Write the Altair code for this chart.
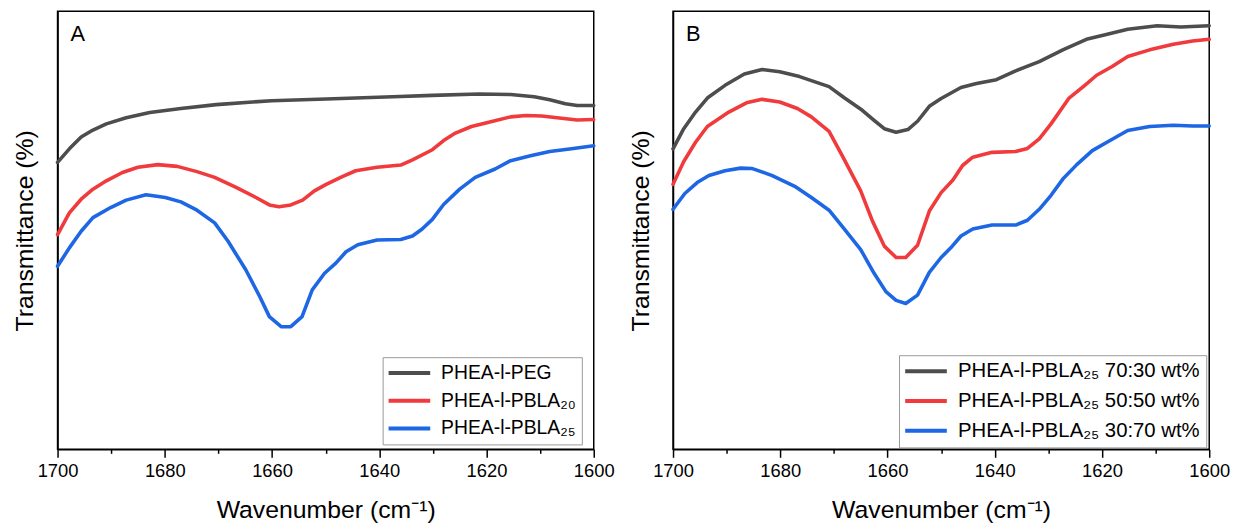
import altair as alt
import pandas as pd

# ---------------- Panel A ----------------
a_names = ["PHEA-l-PEG", "PHEA-l-PBLA₂₀", "PHEA-l-PBLA₂₅"]
a_colors = ["#4d4d4d", "#f03a3c", "#1d66e4"]

a_peg_wn = [1700, 1697.8, 1695.6, 1693.4, 1690.9, 1687.2, 1682.8, 1677.0, 1670.4, 1660.1,
            1649.9, 1637.5, 1630.1, 1621.4, 1615.5, 1611.1, 1608.2, 1605.3, 1603.1, 1600]
a_peg_t = [65.5, 68.6, 71.3, 72.9, 74.3, 75.7, 76.9, 77.8, 78.7, 79.6,
           80.0, 80.5, 80.8, 81.1, 81.0, 80.5, 79.8, 78.9, 78.5, 78.5]

a_b20_wn = [1700, 1697.8, 1695.6, 1693.4, 1690.9, 1687.9, 1685.0, 1681.3, 1677.7, 1674.0,
            1670.7, 1666.7, 1663.0, 1660.5, 1658.7, 1656.5, 1654.3, 1652.1, 1649.9, 1647.0,
            1644.4, 1640.4, 1636.0, 1633.8, 1630.1, 1628.0, 1625.8, 1622.8, 1619.2, 1615.5,
            1612.6, 1609.7, 1606.0, 1603.1, 1600]
a_b20_t = [49.0, 54.0, 57.1, 59.4, 61.3, 63.2, 64.4, 65.0, 64.6, 63.4,
           62.1, 59.8, 57.5, 55.8, 55.4, 55.8, 56.9, 59.0, 60.5, 62.2,
           63.6, 64.4, 64.9, 66.1, 68.4, 70.5, 72.2, 73.7, 74.8, 75.9,
           76.2, 76.1, 75.6, 75.2, 75.3]

a_b25_wn = [1700, 1697.8, 1695.6, 1693.4, 1690.1, 1687.2, 1683.5, 1679.9, 1677.0, 1674.0,
            1670.7, 1668.2, 1664.9, 1662.3, 1660.5, 1658.3, 1656.5, 1654.4, 1652.5, 1650.2,
            1648.1, 1646.2, 1644.0, 1640.4, 1636.0, 1633.8, 1632.0, 1630.1, 1628.0, 1625.0,
            1622.1, 1618.4, 1615.5, 1611.8, 1608.2, 1603.8, 1600]
a_b25_t = [41.8, 46.0, 49.8, 52.9, 55.2, 56.9, 58.1, 57.5, 56.5, 54.6,
           51.7, 47.5, 41.0, 34.9, 30.3, 28.0, 28.0, 30.3, 36.4, 40.2,
           42.5, 45.1, 46.7, 47.8, 47.9, 48.7, 50.3, 52.5, 55.9, 59.4,
           62.1, 64.0, 65.9, 67.0, 68.0, 68.7, 69.3]

# ---------------- Panel B ----------------
b_names = ["PHEA-l-PBLA₂₅ 70:30 wt%", "PHEA-l-PBLA₂₅ 50:50 wt%", "PHEA-l-PBLA₂₅ 30:70 wt%"]
b_colors = ["#4d4d4d", "#f03a3c", "#1d66e4"]

b_7030_wn = [1700, 1698.0, 1695.8, 1693.6, 1690.3, 1686.7, 1683.4, 1680.1, 1676.4, 1670.9,
             1668.0, 1664.7, 1662.5, 1660.6, 1658.4, 1656.2, 1654.4, 1652.2, 1650.0, 1646.3,
             1643.4, 1639.7, 1636.1, 1631.7, 1627.3, 1622.9, 1619.2, 1615.2, 1609.7, 1605.3, 1600]
b_7030_t = [68.6, 73.2, 77.0, 80.2, 83.1, 85.7, 86.7, 86.2, 85.1, 82.8,
            80.2, 77.4, 75.1, 73.2, 72.4, 73.0, 74.9, 78.3, 80.1, 82.6,
            83.5, 84.4, 86.4, 88.5, 91.2, 93.6, 94.7, 95.9, 96.7, 96.4, 96.7]

b_5050_wn = [1700, 1698.0, 1695.8, 1693.6, 1689.6, 1686.3, 1683.4, 1680.1, 1676.8, 1674.2,
             1670.9, 1668.3, 1665.0, 1662.8, 1660.6, 1658.4, 1656.6, 1654.4, 1652.2, 1650.0,
             1647.8, 1646.0, 1644.1, 1640.5, 1636.1, 1633.9, 1631.7, 1629.5, 1626.2, 1623.2,
             1621.0, 1618.1, 1615.2, 1611.1, 1606.7, 1603.1, 1600]
b_5050_t = [60.5, 65.7, 70.1, 73.7, 77.0, 79.1, 79.9, 79.3, 77.8, 75.9,
            72.6, 66.7, 59.0, 52.1, 46.4, 43.8, 43.8, 46.6, 54.4, 58.6,
            61.5, 64.8, 66.7, 67.8, 68.0, 68.7, 70.9, 74.3, 80.1, 83.1,
            85.4, 87.4, 89.7, 91.2, 92.5, 93.2, 93.6]

b_3070_wn = [1700, 1697.8, 1695.5, 1693.3, 1690.3, 1687.4, 1685.2, 1681.5, 1677.1, 1674.2,
             1670.9, 1668.0, 1665.0, 1662.5, 1660.3, 1658.4, 1656.6, 1654.4, 1652.2, 1650.0,
             1648.2, 1646.3, 1644.1, 1640.5, 1636.1, 1633.9, 1631.7, 1629.5, 1627.3, 1624.7,
             1621.8, 1618.5, 1615.2, 1611.1, 1606.7, 1603.1, 1600]
b_3070_t = [54.8, 58.4, 60.9, 62.5, 63.6, 64.2, 64.1, 62.5, 59.9, 57.5,
            54.6, 50.2, 45.6, 40.2, 36.0, 34.0, 33.3, 35.2, 40.4, 43.8,
            46.0, 48.7, 50.3, 51.2, 51.2, 52.3, 54.8, 58.0, 61.7, 65.0,
            68.2, 70.5, 72.8, 73.7, 74.0, 73.8, 73.8]

x_ticks = [1700, 1690, 1680, 1670, 1660, 1650, 1640, 1630, 1620, 1610, 1600]

FONT = "Liberation Sans"
W, H = 541, 442


def make_df(names, wns, ts):
    frames = []
    for i, (n, w, t) in enumerate(zip(names, wns, ts)):
        frames.append(pd.DataFrame({"wn": w, "T": t, "series": n, "order": i}))
    return pd.concat(frames, ignore_index=True)


def panel(df, names, colors, letter, lx, ly, lfs, rpad):
    lines = alt.Chart(df).mark_line(strokeWidth=3.6, strokeJoin="round", strokeCap="round").encode(
        x=alt.X("wn:Q",
                scale=alt.Scale(domain=[1600, 1700], reverse=True, nice=False, zero=False),
                axis=alt.Axis(title="Wavenumber (cm⁻¹)", values=x_ticks, format="d",
                              labelExpr="datum.value % 20 === 0 ? datum.label : ''",
                              tickSize={"condition": {"test": "datum.value % 20 === 0", "value": 8}, "value": 4},
                              labelFlush=False, labelOverlap=False, grid=False,
                              labelFontSize=18.5, titleFontSize=25, labelPadding=4,
                              titlePadding=18, titleFontWeight="normal")),
        y=alt.Y("T:Q", scale=alt.Scale(domain=[0, 100], nice=False),
                axis=alt.Axis(title="Transmittance (%)", labels=False, ticks=False, grid=False,
                              titleFontSize=25, titlePadding=20, titleFontWeight="normal")),
        color=alt.Color("series:N", scale=alt.Scale(domain=names, range=colors),
                        legend=alt.Legend(title=None, orient="none", legendX=lx, legendY=ly,
                                          symbolType="M-2.625,0H2.625", symbolSize=256, symbolStrokeWidth=4,
                                          symbolOffset=11,
                                          labelFontSize=lfs, labelFont=FONT, labelLimit=400,
                                          labelOffset=22, rowPadding=rpad, padding=6,
                                          strokeColor="#999999", fillColor="white",
                                          cornerRadius=0)),
        detail="series:N",
        order="order:Q",
    )
    txt = alt.Chart(pd.DataFrame({"label": [letter]})).mark_text(
        align="left", baseline="alphabetic", fontSize=22, font=FONT, color="black"
    ).encode(text="label:N", x=alt.value(13), y=alt.value(30))
    return alt.layer(lines, txt).properties(width=W, height=H)


df_a = make_df(a_names, [a_peg_wn, a_b20_wn, a_b25_wn], [a_peg_t, a_b20_t, a_b25_t])
df_b = make_df(b_names, [b_7030_wn, b_5050_wn, b_3070_wn], [b_7030_t, b_5050_t, b_3070_t])

pa = panel(df_a, a_names, a_colors, "A", 328, 349, 19.5, 8)
pb = panel(df_b, b_names, b_colors, "B", 228, 347, 20.5, 9)

chart = alt.hconcat(pa, pb, spacing=80, bounds="flush").resolve_scale(
    color="independent"
).properties(
    padding={"left": 4, "top": 0, "right": 2, "bottom": 0}
).configure(
    font=FONT
).configure_view(
    stroke="black", strokeWidth=1.5
).configure_axis(
    domainColor="black", domainWidth=1.5, tickColor="black", tickWidth=1.5,
    labelColor="black", titleColor="black", labelFont=FONT, titleFont=FONT
)

chart.save("out.html", embed_options={"renderer": "svg", "actions": False})
